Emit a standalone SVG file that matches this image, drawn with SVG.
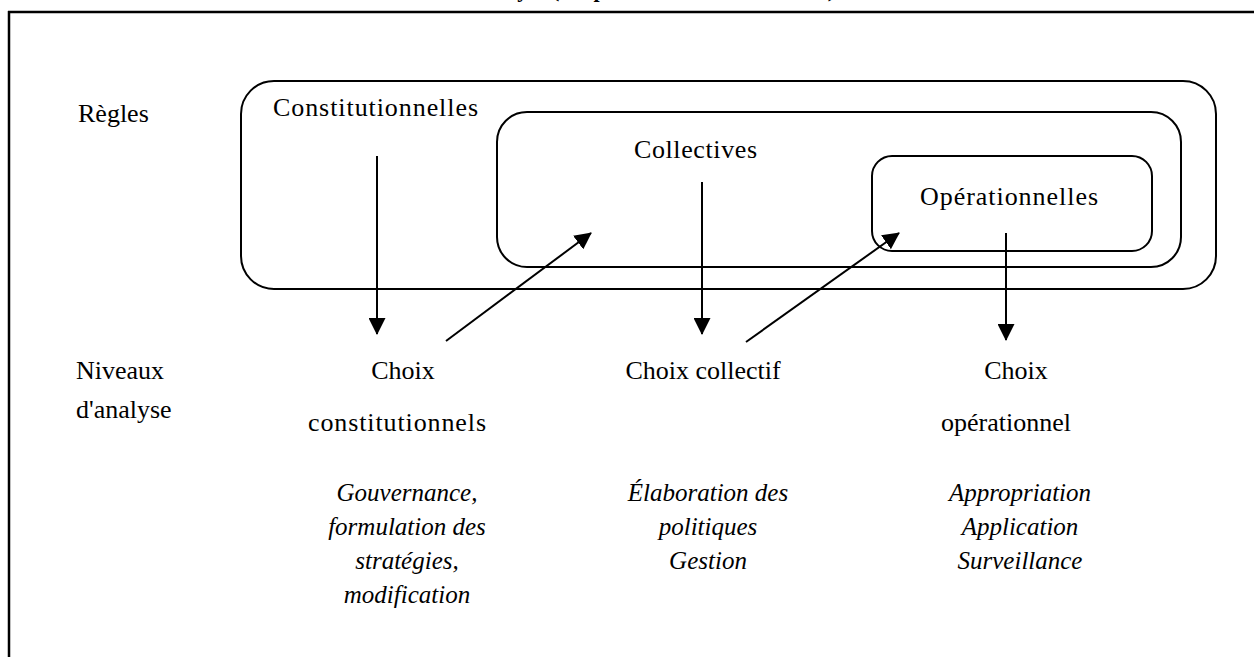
<svg xmlns="http://www.w3.org/2000/svg" width="1254" height="657" viewBox="0 0 1254 657">
<style>
.t{font-family:"Liberation Serif","Times New Roman",serif;font-size:26px;fill:#000}
.i{font-family:"Liberation Serif","Times New Roman",serif;font-size:25px;font-style:italic;fill:#000}
.b{fill:none;stroke:#000;stroke-width:2}
.c{stroke:#000;stroke-width:2;fill:none;marker-end:url(#ah)}
</style>
<defs>
<marker id="ah" viewBox="0 0 17 17" refX="16" refY="8.5" markerWidth="17" markerHeight="17" markerUnits="userSpaceOnUse" orient="auto">
<path d="M0,0 L17,8.5 L0,17 Z" fill="#000"/>
</marker>
</defs>
<rect width="1254" height="657" fill="#fff"/>
<text x="376" y="-3" style="font-family:'Liberation Serif',serif;font-size:22px;font-weight:bold">Niveaux d'analyse (adapté de Ostrom et al. 2005)</text>
<g id="frame">
<line x1="8" y1="12" x2="1254" y2="12" stroke="#000" stroke-width="2.5"/>
<line x1="9" y1="11" x2="9" y2="657" stroke="#000" stroke-width="2.5"/>
</g>
<g id="labels">
<text class="t" x="78" y="122">Règles</text>
<text class="t" x="76" y="379">Niveaux</text>
<text class="t" x="76" y="418">d'analyse</text>
</g>
<g id="constitutionnelles">
<rect class="b" x="241" y="81" width="975" height="208" rx="33"/>
<text class="t" x="273" y="116" textLength="205">Constitutionnelles</text>
</g>
<g id="collectives">
<rect class="b" x="497" y="112" width="684" height="155" rx="30"/>
<text class="t" x="634" y="158" textLength="123">Collectives</text>
</g>
<g id="operationnelles">
<rect class="b" x="872" y="156" width="280" height="95" rx="20"/>
<text class="t" x="920" y="205" textLength="178">Opérationnelles</text>
</g>
<g id="choix-constitutionnels">
<text class="t" text-anchor="middle" x="403" y="379">Choix</text>
<text class="t" text-anchor="middle" x="397" y="431" textLength="178">constitutionnels</text>
<text class="i" text-anchor="middle" x="407" y="501">Gouvernance,</text>
<text class="i" text-anchor="middle" x="407" y="535">formulation des</text>
<text class="i" text-anchor="middle" x="407" y="569">stratégies,</text>
<text class="i" text-anchor="middle" x="407" y="603">modification</text>
</g>
<g id="choix-collectif">
<text class="t" text-anchor="middle" x="703" y="379">Choix collectif</text>
<text class="i" text-anchor="middle" x="708" y="501">Élaboration des</text>
<text class="i" text-anchor="middle" x="708" y="535">politiques</text>
<text class="i" text-anchor="middle" x="708" y="569">Gestion</text>
</g>
<g id="choix-operationnel">
<text class="t" text-anchor="middle" x="1016" y="379">Choix</text>
<text class="t" text-anchor="middle" x="1006" y="431">opérationnel</text>
<text class="i" text-anchor="middle" x="1020" y="501">Appropriation</text>
<text class="i" text-anchor="middle" x="1020" y="535">Application</text>
<text class="i" text-anchor="middle" x="1020" y="569">Surveillance</text>
</g>
<g id="connectors">
<line class="c" x1="377" y1="156" x2="377" y2="334"/>
<line class="c" x1="702" y1="182" x2="702" y2="334"/>
<line class="c" x1="1006" y1="233" x2="1006" y2="340"/>
<line class="c" x1="446" y1="341" x2="591" y2="233"/>
<line class="c" x1="746" y1="342" x2="899" y2="233"/>
</g>
</svg>
